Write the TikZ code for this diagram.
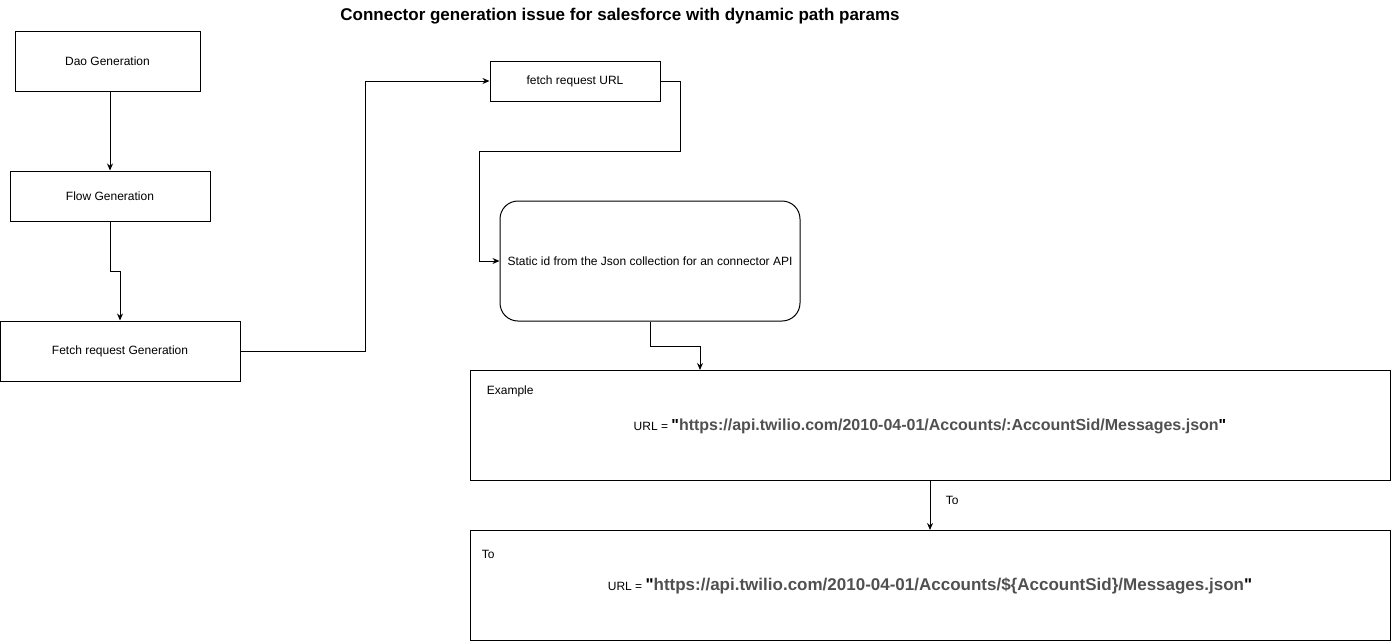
\documentclass[tikz,border=0pt]{standalone}
\usepackage{fontspec}
\setmainfont{Liberation Sans}
\usetikzlibrary{arrows.meta}
\definecolor{urlgray}{RGB}{80,80,80}
\newcommand{\urlpart}[2]{{\fontsize{#1}{20}\selectfont\bfseries \textquotedbl\textcolor{urlgray}{#2}\textquotedbl}}

\begin{document}
\begin{tikzpicture}[x=1pt,y=-1pt,line width=1pt,
  every node/.style={font=\fontsize{12}{14}\selectfont},
  box/.style={draw,shape=rectangle,inner sep=0pt},
  link/.style={draw,-{Stealth[length=7pt,width=6pt]}}]
  \useasboundingbox (0,0) rectangle (1391,641);
  \node[font=\fontsize{17}{20}\selectfont\bfseries] (title) at (620,16) {Connector generation issue for salesforce with dynamic path params};
  \path (107.5,61) node[box,minimum width=185,minimum height=60] (dao) {Dao Generation}
  (110,196) node[box,minimum width=200,minimum height=50] (flow) {Flow Generation}
  (120,351) node[box,minimum width=240,minimum height=60] (fetch) {Fetch request Generation}
  (575,81) node[box,minimum width=170,minimum height=40] (url) {fetch request URL}
  (650,261) node[box,rounded corners=18pt,minimum width=300,minimum height=120] (static) {Static id from the Json collection for an connector API}
  (930,425) node[box,minimum width=920,minimum height=110] (example) {}
  (930,585) node[box,minimum width=920,minimum height=110] (to) {};
  \node[anchor=west] (exlabel) at (483,391) {Example};
  \node (exurl) at (930,426) {URL = \urlpart{16}{https://api.twilio.com/2010-04-01/Accounts/:AccountSid/Messages.json}};
  \node[anchor=west] (tolabel) at (478,554) {To};
  \node (tourl) at (930,586) {URL = \urlpart{17}{https://api.twilio.com/2010-04-01/Accounts/\$\{AccountSid\}/Messages.json}};
  \draw[link] (flow.north |- dao.south) -- (flow.north);
  \draw[link] (flow.south) -- ++(0,50) -| (fetch.north);
  \draw[link] (fetch.east) -- ++(125,0) |- (url.west);
  \draw[link] (url.east) -- ++(20,0) -- ++(0,70) -| ([xshift=-20pt]static.west) -- (static.west);
  \draw[link] (static.south) -- ++(0,25) -| (700,370);
  \draw[link] (930,480) -- node[pos=0.4,right=12pt] (tolbl) {To} (930,530);
\end{tikzpicture}
\end{document}
